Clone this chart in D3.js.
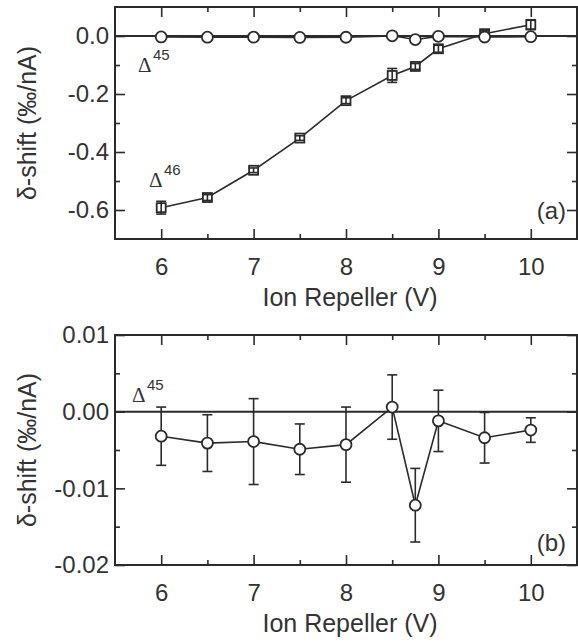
<!DOCTYPE html>
<html>
<head>
<meta charset="utf-8">
<script src="https://cdn.jsdelivr.net/npm/d3@7"></script>
<style>
  html, body { margin: 0; padding: 0; background: #fff; }
  svg { display: block; }
  text { font-family: "Liberation Sans", Arial, sans-serif; fill: #333; }
</style>
</head>
<body>
<svg id="chart" width="578" height="644"></svg>
<script>
// ---- data ----
const voltages = [6, 6.5, 7, 7.5, 8, 8.5, 8.75, 9, 9.5, 10];
const delta45 = [-0.0032, -0.0041, -0.0039, -0.0049, -0.0043, 0.0006, -0.0122, -0.0012, -0.0034, -0.0024];
const delta45Err = [0.0038, 0.0037, 0.0056, 0.0033, 0.0049, 0.0042, 0.0048, 0.0040, 0.0033, 0.0016];
const delta46 = [-0.592, -0.557, -0.463, -0.352, -0.223, -0.136, -0.105, -0.044, 0.008, 0.039];
const delta46Err = [0.022, 0.010, 0.008, 0.008, 0.010, 0.024, 0.010, 0.012, 0.010, 0.017];

const xMajorTicks = [6, 7, 8, 9, 10];
const xMinorTicks = [6.5, 7.5, 8.5, 9.5];
const yMajorTicksA = [0.0, -0.2, -0.4, -0.6];
const yMinorTicksA = [-0.1, -0.3, -0.5];
const yMajorTicksB = [0.01, 0.00, -0.01, -0.02];
const yMinorTicksB = [0.005, -0.005, -0.015];

const xLabel = "Ion Repeller (V)";
const yLabel = "δ-shift (‰/nA)";

// ---- layout ----
const svg = d3.select("#chart");
const ink = "#2b2b2b";
const left = 115, right = 577;
const x = d3.scaleLinear().domain([5.5, 10.5]).range([left, right]);

function panel(cfg) {
  const y = d3.scaleLinear().domain(cfg.yDomain).range([cfg.bottom, cfg.top]);
  const g = svg.append("g");
  const fmt = d => d3.format(cfg.fmt)(d).replace("\u2212", "-");

  // zero line
  g.append("line").attr("x1", left).attr("x2", right)
    .attr("y1", y(0)).attr("y2", y(0))
    .attr("stroke", ink).attr("stroke-width", 2);

  const axisStyle = sel => {
    sel.select(".domain").remove();
    sel.selectAll("line").attr("stroke", ink).attr("stroke-width", 1.6);
    sel.selectAll("text").style("font-size", "24px").attr("fill", "#333");
  };

  // bottom axis (labels + major)
  g.append("g").attr("transform", `translate(0,${cfg.bottom})`)
    .call(d3.axisBottom(x).tickValues(xMajorTicks).tickSize(-10).tickPadding(19).tickFormat(d3.format("d")))
    .call(axisStyle);
  g.append("g").attr("transform", `translate(0,${cfg.bottom})`)
    .call(d3.axisBottom(x).tickValues(xMinorTicks).tickSize(-5).tickFormat(""))
    .call(axisStyle);
  // top mirrored
  g.append("g").attr("transform", `translate(0,${cfg.top})`)
    .call(d3.axisTop(x).tickValues(xMajorTicks).tickSize(-10).tickFormat(""))
    .call(axisStyle);
  g.append("g").attr("transform", `translate(0,${cfg.top})`)
    .call(d3.axisTop(x).tickValues(xMinorTicks).tickSize(-5).tickFormat(""))
    .call(axisStyle);
  // left axis
  g.append("g").attr("transform", `translate(${left},0)`)
    .call(d3.axisLeft(y).tickValues(cfg.yMajor).tickSize(-10).tickPadding(6).tickFormat(fmt))
    .call(axisStyle);
  g.append("g").attr("transform", `translate(${left},0)`)
    .call(d3.axisLeft(y).tickValues(cfg.yMinor).tickSize(-5).tickFormat(""))
    .call(axisStyle);
  // right mirrored
  g.append("g").attr("transform", `translate(${right},0)`)
    .call(d3.axisRight(y).tickValues(cfg.yMajor).tickSize(-10).tickFormat(""))
    .call(axisStyle);
  g.append("g").attr("transform", `translate(${right},0)`)
    .call(d3.axisRight(y).tickValues(cfg.yMinor).tickSize(-5).tickFormat(""))
    .call(axisStyle);

  // frame
  g.append("rect").attr("x", left).attr("y", cfg.top)
    .attr("width", right - left).attr("height", cfg.bottom - cfg.top)
    .attr("fill", "none").attr("stroke", ink).attr("stroke-width", 2);

  // axis titles
  g.append("text").attr("x", 350).attr("y", cfg.bottom + 67)
    .attr("text-anchor", "middle").style("font-size", "25px").text(xLabel);
  g.append("text")
    .attr("transform", `translate(27,${(cfg.top + cfg.bottom) / 2}) rotate(-90)`)
    .attr("text-anchor", "middle").attr("dominant-baseline", "central")
    .style("font-size", "25px").text(yLabel);

  // panel letter
  g.append("text").attr("x", 566).attr("y", cfg.letterY)
    .attr("text-anchor", "end").style("font-size", "24px").text(cfg.letter);

  // series
  const line = d3.line().x(d => x(d.x)).y(d => y(d.y));
  cfg.series.forEach(s => {
    const pts = voltages.map((v, i) => ({ x: v, y: s.values[i], e: s.errors[i] }));
    g.append("path").datum(pts).attr("d", line)
      .attr("fill", "none").attr("stroke", ink).attr("stroke-width", 1.6);

    const drawErr = () => {
      const eg = g.append("g").attr("stroke", ink).attr("stroke-width", 1.6);
      pts.forEach(p => {
        const y1 = y(p.y + p.e), y2 = y(p.y - p.e), cx = x(p.x);
        eg.append("line").attr("x1", cx).attr("x2", cx).attr("y1", y1).attr("y2", y2);
        eg.append("line").attr("x1", cx - 5).attr("x2", cx + 5).attr("y1", y1).attr("y2", y1);
        eg.append("line").attr("x1", cx - 5).attr("x2", cx + 5).attr("y1", y2).attr("y2", y2);
      });
    };

    if (s.shape === "circle") {
      drawErr();
      g.append("g").selectAll("circle").data(pts).join("circle")
        .attr("cx", d => x(d.x)).attr("cy", d => y(d.y)).attr("r", 5.5)
        .attr("fill", "#fff").attr("stroke", ink).attr("stroke-width", 1.8);
    } else {
      g.append("g").selectAll("rect").data(pts).join("rect")
        .attr("x", d => x(d.x) - 4.5).attr("y", d => y(d.y) - 4.5)
        .attr("width", 9).attr("height", 9)
        .attr("fill", "#fff").attr("stroke", ink).attr("stroke-width", 1.8);
      drawErr();
    }
  });

  // delta labels
  cfg.deltas.forEach(dl => {
    g.append("text").attr("x", dl.x).attr("y", dl.y)
      .style("font-family", "'Liberation Serif', 'Times New Roman', serif")
      .style("font-size", "21px").text("Δ");
    g.append("text").attr("x", dl.x + 15).attr("y", dl.y - 12)
      .style("font-size", "15px").text(dl.sup);
  });
}

panel({
  top: 7, bottom: 239, yDomain: [-0.7, 0.1], fmt: ".1f",
  yMajor: yMajorTicksA, yMinor: yMinorTicksA,
  letter: "(a)", letterY: 219,
  series: [
    { values: delta46, errors: delta46Err, shape: "square" },
    { values: delta45, errors: delta45Err, shape: "circle" }
  ],
  deltas: [ { x: 138, y: 72, sup: "45" }, { x: 149, y: 187, sup: "46" } ]
});

panel({
  top: 335, bottom: 565, yDomain: [-0.02, 0.01], fmt: ".2f",
  yMajor: yMajorTicksB, yMinor: yMinorTicksB,
  letter: "(b)", letterY: 551,
  series: [
    { values: delta45, errors: delta45Err, shape: "circle" }
  ],
  deltas: [ { x: 132, y: 402, sup: "45" } ]
});
</script>
</body>
</html>
